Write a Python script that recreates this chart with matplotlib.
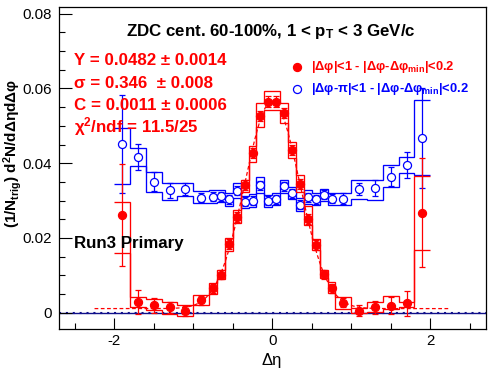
import numpy as np
import matplotlib
matplotlib.use('Agg')
import matplotlib.pyplot as plt
from matplotlib.lines import Line2D
from matplotlib.ticker import MultipleLocator, FixedLocator

plt.rcParams['font.family'] = ['Liberation Sans', 'DejaVu Sans']
plt.rcParams['mathtext.fontset'] = 'custom'
plt.rcParams['mathtext.rm'] = 'Liberation Sans:bold'
plt.rcParams['mathtext.it'] = 'Liberation Sans:bold'
plt.rcParams['mathtext.bf'] = 'Liberation Sans:bold'
plt.rcParams['axes.unicode_minus'] = False

# ---------------- data ----------------
eta_edges = [-2.0, -1.8, -1.6, -1.4, -1.2, -1.0, -0.8, -0.7, -0.6, -0.5, -0.4, -0.3,
             -0.2, -0.1, 0.0, 0.1, 0.2, 0.3, 0.4, 0.5, 0.6, 0.7, 0.8, 1.0, 1.2, 1.4,
             1.6, 1.8, 2.0]
eta_centers = [-1.9, -1.7, -1.5, -1.3, -1.1, -0.9, -0.75, -0.65, -0.55, -0.45, -0.35,
               -0.25, -0.15, -0.05, 0.05, 0.15, 0.25, 0.35, 0.45, 0.55, 0.65, 0.75,
               0.9, 1.1, 1.3, 1.5, 1.7, 1.9]

near_y = [0.0262, 0.0029, 0.0020, 0.0014, 0.0005, 0.0033, 0.0065, 0.0101, 0.0184,
          0.0256, 0.0341, 0.0427, 0.0526, 0.0565, 0.0565, 0.0534, 0.0436, 0.0344,
          0.0250, 0.0182, 0.0103, 0.0065, 0.0027, 0.0005, 0.0014, 0.0019, 0.0025,
          0.0267]
near_stat = [0.0137, 0.0032, 0.0020, 0.0014, 0.0013, 0.0013, 0.0013, 0.0012, 0.0013,
             0.0013, 0.0013, 0.0014, 0.0014, 0.0014, 0.0014, 0.0014, 0.0014, 0.0013,
             0.0013, 0.0013, 0.0012, 0.0013, 0.0012, 0.0015, 0.0017, 0.0023, 0.0034,
             0.0146]
near_sys_lo = [0.0103, 0.0014, 0.0012, 0.0018, 0.0014, 0.0012, 0.0015, 0.0012, 0.0019,
               0.0017, 0.0017, 0.0025, 0.0028, 0.0022, 0.0022, 0.0027, 0.0022, 0.0020,
               0.0015, 0.0015, 0.0011, 0.0013, 0.0017, 0.0007, 0.0011, 0.0010, 0.0011,
               0.0099]
near_sys_hi = [0.0035, 0.0012, 0.0017, 0.0015, 0.0015, 0.0014, 0.0014, 0.0013, 0.0017,
               0.0019, 0.0014, 0.0020, 0.0034, 0.0027, 0.0027, 0.0026, 0.0020, 0.0024,
               0.0035, 0.0015, 0.0011, 0.0018, 0.0014, 0.0008, 0.0014, 0.0026, 0.0004,
               0.0099]

away_y = [0.0451, 0.0417, 0.0351, 0.0327, 0.0331, 0.0308, 0.0310, 0.0312, 0.0303,
          0.0326, 0.0297, 0.0300, 0.0341, 0.0299, 0.0304, 0.0338, 0.0320, 0.0289,
          0.0309, 0.0304, 0.0315, 0.0305, 0.0305, 0.0331, 0.0333, 0.0364, 0.0395,
          0.0467]
away_stat = [0.0131, 0.0034, 0.0025, 0.0019, 0.0017, 0.0013, 0.0012, 0.0012, 0.0012,
             0.0012, 0.0012, 0.0012, 0.0012, 0.0012, 0.0012, 0.0012, 0.0012, 0.0012,
             0.0012, 0.0012, 0.0012, 0.0012, 0.0015, 0.0016, 0.0021, 0.0026, 0.0035,
             0.0134]
away_sys_lo = [0.0107, 0.0024, 0.0027, 0.0025, 0.0018, 0.0015, 0.0017, 0.0016, 0.0018,
               0.0020, 0.0016, 0.0017, 0.0022, 0.0015, 0.0016, 0.0018, 0.0016, 0.0017,
               0.0018, 0.0016, 0.0017, 0.0016, 0.0017, 0.0026, 0.0031, 0.0027, 0.0022,
               0.0099]
away_sys_hi = [0.0042, 0.0023, 0.0025, 0.0019, 0.0017, 0.0018, 0.0017, 0.0016, 0.0018,
               0.0020, 0.0016, 0.0017, 0.0022, 0.0015, 0.0016, 0.0018, 0.0016, 0.0017,
               0.0018, 0.0016, 0.0017, 0.0016, 0.0016, 0.0024, 0.0022, 0.0031, 0.0021,
               0.0103]

fit_Y = 0.0482
fit_sigma = 0.346
fit_C = 0.0011
fit_range = 2.25

xtick_vals = [-2, 0, 2]
xtick_labels = ['-2', '0', '2']
ytick_vals = [0.0, 0.02, 0.04, 0.06, 0.08]
ytick_labels = ['0', '0.02', '0.04', '0.06', '0.08']

RED = '#ff0000'
BLUE = '#0000ff'

# ---------------- figure ----------------
W, H = 496, 374
fig = plt.figure(figsize=(W / 100, H / 100), dpi=100)
fig.patch.set_facecolor('white')
ax = fig.add_axes([59 / W, 45 / H, 426.6 / W, 322 / H])
ax.set_xlim(-2.7, 2.7)
ax.set_ylim(-0.00436, 0.0818)

# zero line
ax.axhline(0, color='#10108a', lw=1.0, zorder=1)
ax.axhline(0, color='#10108a', lw=1.5, ls=(0, (1, 2.3)), zorder=1)

edges = np.array(eta_edges)
def draw_series(yv, stat, slo, shi, color, filled, z):
    yv = np.array(yv); slo = np.array(slo); shi = np.array(shi)
    ax.stairs(yv + shi, edges, baseline=None, color=color, lw=0.95, zorder=z)
    ax.stairs(yv - slo, edges, baseline=None, color=color, lw=0.95, zorder=z)
    ax.errorbar(eta_centers, yv, yerr=stat, fmt='o', color=color, ms=5.8,
                mfc=color if filled else 'white', mec=color, mew=0.9,
                elinewidth=0.9, capsize=2.2, capthick=0.9, zorder=z + 1)

draw_series(away_y, away_stat, away_sys_lo, away_sys_hi, BLUE, False, 3)
draw_series(near_y, near_stat, near_sys_lo, near_sys_hi, RED, True, 5)

# fit curve
xf = np.linspace(-fit_range, fit_range, 500)
yf = fit_C + fit_Y / (np.sqrt(2 * np.pi) * fit_sigma) * np.exp(-xf ** 2 / (2 * fit_sigma ** 2))
ax.plot(xf, yf, color=RED, lw=0.9, ls=(0, (3, 2)), zorder=4)

# ticks
ax.xaxis.set_major_locator(FixedLocator(xtick_vals))
ax.set_xticklabels(xtick_labels)
ax.xaxis.set_minor_locator(MultipleLocator(0.5))
ax.yaxis.set_major_locator(FixedLocator(ytick_vals))
ax.set_yticklabels(ytick_labels)
ax.yaxis.set_minor_locator(MultipleLocator(0.005))
ax.tick_params(which='both', direction='in', top=False, right=False,
               labelsize=10.8, width=0.8, color='black')
ax.tick_params(axis='x', which='major', length=8, pad=3.5)
ax.tick_params(axis='x', which='minor', length=4.3)
ax.tick_params(axis='y', which='major', length=9.2, pad=5)
ax.tick_params(axis='y', which='minor', length=4.6)
for s in ax.spines.values():
    s.set_linewidth(0.9)

# labels
fig.text(272 / W, 1 - 361 / H, 'Δη', ha='center', va='center', fontsize=12)
fig.text(13 / W, 1 - 153 / H, '(1/N$_{\\mathrm{trig}}$) d$^{2}$N/dΔηdΔφ', rotation=90,
         ha='center', va='center', fontsize=11, fontweight='bold')

fig.text(126 / W, 1 - 36 / H, 'ZDC cent. 60-100%, 1 < p$_{\\mathrm{T}}$ < 3 GeV/c',
         ha='left', va='baseline', fontsize=12.2, fontweight='bold')

fit_lines = ['Y = 0.0482 ± 0.0014', 'σ = 0.346  ± 0.008', 'C = 0.0011 ± 0.0006',
             'χ$^{2}$/ndf = 11.5/25']
fit_base = [65, 87.5, 110, 132]
for t, b in zip(fit_lines, fit_base):
    fig.text(74 / W, 1 - b / H, t, ha='left', va='baseline', fontsize=12.2,
             fontweight='bold', color=RED)

fig.text(74 / W, 1 - 248.3 / H, 'Run3 Primary', ha='left', va='baseline',
         fontsize=12.2, fontweight='bold', color='black')

# legend (manual, ROOT style)
leg = [('|Δφ|<1 - |Δφ-Δφ$_{\\mathrm{min}}$|<0.2', RED, True, 67, 70),
       ('|Δφ-π|<1 - |Δφ-Δφ$_{\\mathrm{min}}$|<0.2', BLUE, False, 89, 92)]
for lab, col, filled, my, by in leg:
    fig.add_artist(Line2D([297 / W], [1 - my / H], transform=fig.transFigure,
                          marker='o', ms=5.8, color=col, mec=col,
                          mfc=col if filled else 'white', mew=0.9, ls='none'))
    fig.text(311 / W, 1 - by / H, lab, ha='left', va='baseline', fontsize=9.3,
             fontweight='bold', color=col)

fig.savefig('out.png', dpi=100)
